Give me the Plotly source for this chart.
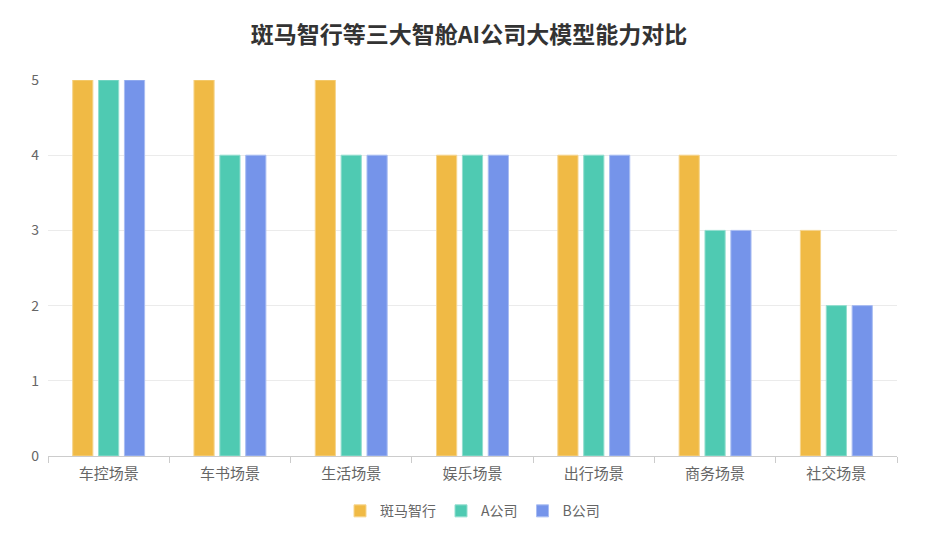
import plotly.graph_objects as go

# scenarios and model scores
categories = ["车控场景", "车书场景", "生活场景", "娱乐场景", "出行场景", "商务场景", "社交场景"]
banma = [5, 5, 5, 4, 4, 4, 3]
company_a = [5, 4, 4, 4, 4, 3, 2]
company_b = [5, 4, 4, 4, 4, 3, 2]
series_names = ["斑马智行", "A公司", "B公司"]
colors = ["#F0BA45", "#4FCAB2", "#7594EA"]
borders = ["#F6D58E", "#93DECF", "#A9BDF2"]

FONT = "Noto Sans CJK SC"

fig = go.Figure()
for name, values, color, border in zip(series_names, [banma, company_a, company_b], colors, borders):
    fig.add_trace(
        go.Bar(
            x=categories,
            y=values,
            name=name,
            marker=dict(color=color, line=dict(color=border, width=1)),
        )
    )

# the page body adds an 8px offset, so the figure is a bit smaller than the window
fig.update_layout(
    width=922,
    height=532,
    margin=dict(l=40, r=33, t=72, b=84),
    paper_bgcolor="white",
    plot_bgcolor="white",
    font=dict(family=FONT, color="#666666", size=14),
    title=dict(
        text="<b>斑马智行等三大智舱AI公司大模型能力对比</b>",
        x=0.5,
        xanchor="center",
        y=0.95,
        yanchor="middle",
        font=dict(family=FONT, size=23, color="#333333"),
    ),
    barmode="group",
    bargap=0.36,
    bargroupgap=0.22,
    legend=dict(
        orientation="h",
        x=0.5,
        xanchor="center",
        y=-0.147,
        yanchor="middle",
        font=dict(size=14, color="#666666"),
        itemwidth=30,
        traceorder="normal",
    ),
    xaxis=dict(
        showline=True,
        linecolor="#CCCCCC",
        tickson="boundaries",
        ticks="outside",
        ticklen=6,
        tickcolor="#CCCCCC",
        showgrid=False,
        ticklabelstandoff=4,
        tickfont=dict(size=15, color="#666666"),
    ),
    yaxis=dict(
        range=[0, 5],
        dtick=1,
        showgrid=True,
        gridcolor="#EBEBEB",
        zeroline=False,
        showline=False,
        ticks="",
        ticklabelstandoff=8,
        tickfont=dict(size=14, color="#666666"),
    ),
)

fig.write_html("out.html")
